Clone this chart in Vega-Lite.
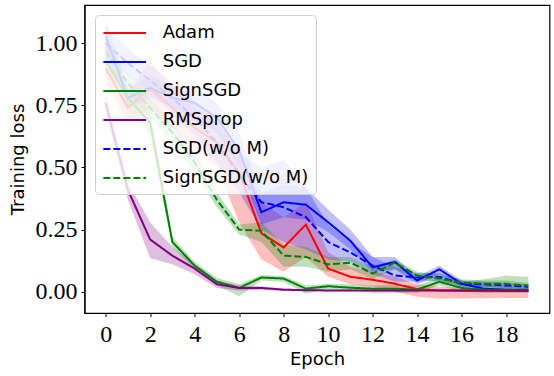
{
  "$schema": "https://vega.github.io/schema/vega-lite/v6.json",
  "width": 465,
  "height": 308,
  "autosize": {"type": "none"},
  "padding": {"left": 84.5, "top": 5, "right": 4.5, "bottom": 63},
  "background": "white",
  "config": {
    "view": {"stroke": "black", "strokeWidth": 1.2},
    "axis": {
      "grid": false,
      "domainColor": "black",
      "domainWidth": 1.2,
      "tickColor": "black",
      "tickWidth": 1,
      "tickSize": 3.5,
      "labelFont": "Liberation Serif",
      "labelFontSize": 24,
      "labelColor": "black",
      "titleFont": "DejaVu Sans",
      "titleFontSize": 18,
      "titleFontWeight": "normal",
      "titleColor": "black"
    },
    "legend": {
      "orient": "none",
      "legendX": 10.5,
      "legendY": 10,
      "padding": 7,
      "fillColor": "rgba(255,255,255,0.8)",
      "strokeColor": "#d0d0d0",
      "cornerRadius": 4,
      "symbolType": "M-2.2,0H2.2",
      "symbolSize": 376,
      "symbolOffset": 11.7,
      "symbolStrokeWidth": 2,
      "symbolOpacity": 1,
      "symbolFillColor": "transparent",
      "labelFont": "DejaVu Sans",
      "labelFontSize": 18,
      "labelColor": "black",
      "labelOffset": 27,
      "rowPadding": 9,
      "labelLimit": 300
    }
  },
  "data": {
    "values": [
      {"series": "Adam", "epoch": 0, "mean": 0.90, "lo": 0.84, "hi": 0.95},
      {"series": "Adam", "epoch": 1, "mean": 0.74, "lo": 0.68, "hi": 0.80},
      {"series": "Adam", "epoch": 2, "mean": 0.82, "lo": 0.74, "hi": 0.93},
      {"series": "Adam", "epoch": 3, "mean": 0.74, "lo": 0.66, "hi": 0.82},
      {"series": "Adam", "epoch": 4, "mean": 0.66, "lo": 0.58, "hi": 0.74},
      {"series": "Adam", "epoch": 5, "mean": 0.60, "lo": 0.50, "hi": 0.68},
      {"series": "Adam", "epoch": 6, "mean": 0.48, "lo": 0.28, "hi": 0.58},
      {"series": "Adam", "epoch": 7, "mean": 0.235, "lo": 0.13, "hi": 0.36},
      {"series": "Adam", "epoch": 8, "mean": 0.178, "lo": 0.08, "hi": 0.30},
      {"series": "Adam", "epoch": 9, "mean": 0.27, "lo": 0.14, "hi": 0.36},
      {"series": "Adam", "epoch": 10, "mean": 0.093, "lo": 0.06, "hi": 0.16},
      {"series": "Adam", "epoch": 11, "mean": 0.06, "lo": 0.03, "hi": 0.10},
      {"series": "Adam", "epoch": 12, "mean": 0.048, "lo": 0.02, "hi": 0.08},
      {"series": "Adam", "epoch": 13, "mean": 0.032, "lo": 0.0, "hi": 0.06},
      {"series": "Adam", "epoch": 14, "mean": 0.01, "lo": -0.02, "hi": 0.03},
      {"series": "Adam", "epoch": 15, "mean": 0.005, "lo": -0.028, "hi": 0.02},
      {"series": "Adam", "epoch": 16, "mean": 0.004, "lo": -0.027, "hi": 0.015},
      {"series": "Adam", "epoch": 17, "mean": 0.004, "lo": -0.026, "hi": 0.015},
      {"series": "Adam", "epoch": 18, "mean": 0.003, "lo": -0.025, "hi": 0.012},
      {"series": "Adam", "epoch": 19, "mean": 0.003, "lo": -0.025, "hi": 0.012},

      {"series": "SGD", "epoch": 0, "mean": 1.03, "lo": 0.98, "hi": 1.09},
      {"series": "SGD", "epoch": 1, "mean": 0.78, "lo": 0.74, "hi": 0.82},
      {"series": "SGD", "epoch": 2, "mean": 0.82, "lo": 0.78, "hi": 0.87},
      {"series": "SGD", "epoch": 3, "mean": 0.78, "lo": 0.74, "hi": 0.83},
      {"series": "SGD", "epoch": 4, "mean": 0.76, "lo": 0.70, "hi": 0.82},
      {"series": "SGD", "epoch": 5, "mean": 0.70, "lo": 0.64, "hi": 0.76},
      {"series": "SGD", "epoch": 6, "mean": 0.57, "lo": 0.50, "hi": 0.64},
      {"series": "SGD", "epoch": 7, "mean": 0.32, "lo": 0.27, "hi": 0.40},
      {"series": "SGD", "epoch": 8, "mean": 0.36, "lo": 0.30, "hi": 0.43},
      {"series": "SGD", "epoch": 9, "mean": 0.35, "lo": 0.29, "hi": 0.42},
      {"series": "SGD", "epoch": 10, "mean": 0.28, "lo": 0.24, "hi": 0.33},
      {"series": "SGD", "epoch": 11, "mean": 0.205, "lo": 0.17, "hi": 0.25},
      {"series": "SGD", "epoch": 12, "mean": 0.098, "lo": 0.08, "hi": 0.14},
      {"series": "SGD", "epoch": 13, "mean": 0.12, "lo": 0.09, "hi": 0.14},
      {"series": "SGD", "epoch": 14, "mean": 0.045, "lo": 0.03, "hi": 0.06},
      {"series": "SGD", "epoch": 15, "mean": 0.09, "lo": 0.07, "hi": 0.105},
      {"series": "SGD", "epoch": 16, "mean": 0.032, "lo": 0.02, "hi": 0.045},
      {"series": "SGD", "epoch": 17, "mean": 0.012, "lo": 0.005, "hi": 0.025},
      {"series": "SGD", "epoch": 18, "mean": 0.008, "lo": 0.003, "hi": 0.02},
      {"series": "SGD", "epoch": 19, "mean": 0.005, "lo": 0.0, "hi": 0.015},

      {"series": "SignSGD", "epoch": 0, "mean": 0.93, "lo": 0.89, "hi": 0.97},
      {"series": "SignSGD", "epoch": 1, "mean": 0.78, "lo": 0.74, "hi": 0.82},
      {"series": "SignSGD", "epoch": 2, "mean": 0.68, "lo": 0.63, "hi": 0.73},
      {"series": "SignSGD", "epoch": 3, "mean": 0.20, "lo": 0.18, "hi": 0.22},
      {"series": "SignSGD", "epoch": 4, "mean": 0.105, "lo": 0.09, "hi": 0.12},
      {"series": "SignSGD", "epoch": 5, "mean": 0.04, "lo": 0.025, "hi": 0.055},
      {"series": "SignSGD", "epoch": 6, "mean": 0.015, "lo": -0.018, "hi": 0.03},
      {"series": "SignSGD", "epoch": 7, "mean": 0.057, "lo": 0.045, "hi": 0.067},
      {"series": "SignSGD", "epoch": 8, "mean": 0.053, "lo": 0.04, "hi": 0.063},
      {"series": "SignSGD", "epoch": 9, "mean": 0.012, "lo": -0.008, "hi": 0.025},
      {"series": "SignSGD", "epoch": 10, "mean": 0.022, "lo": 0.01, "hi": 0.032},
      {"series": "SignSGD", "epoch": 11, "mean": 0.016, "lo": 0.005, "hi": 0.03},
      {"series": "SignSGD", "epoch": 12, "mean": 0.012, "lo": -0.005, "hi": 0.025},
      {"series": "SignSGD", "epoch": 13, "mean": 0.012, "lo": -0.005, "hi": 0.03},
      {"series": "SignSGD", "epoch": 14, "mean": 0.008, "lo": -0.005, "hi": 0.025},
      {"series": "SignSGD", "epoch": 15, "mean": 0.04, "lo": 0.025, "hi": 0.055},
      {"series": "SignSGD", "epoch": 16, "mean": 0.015, "lo": 0.0, "hi": 0.04},
      {"series": "SignSGD", "epoch": 17, "mean": 0.008, "lo": -0.005, "hi": 0.05},
      {"series": "SignSGD", "epoch": 18, "mean": 0.008, "lo": -0.005, "hi": 0.065},
      {"series": "SignSGD", "epoch": 19, "mean": 0.008, "lo": -0.005, "hi": 0.06},

      {"series": "RMSprop", "epoch": 0, "mean": 0.76, "lo": 0.72, "hi": 0.80},
      {"series": "RMSprop", "epoch": 1, "mean": 0.41, "lo": 0.37, "hi": 0.44},
      {"series": "RMSprop", "epoch": 2, "mean": 0.21, "lo": 0.135, "hi": 0.28},
      {"series": "RMSprop", "epoch": 3, "mean": 0.145, "lo": 0.11, "hi": 0.18},
      {"series": "RMSprop", "epoch": 4, "mean": 0.093, "lo": 0.07, "hi": 0.11},
      {"series": "RMSprop", "epoch": 5, "mean": 0.03, "lo": 0.015, "hi": 0.045},
      {"series": "RMSprop", "epoch": 6, "mean": 0.015, "lo": 0.005, "hi": 0.025},
      {"series": "RMSprop", "epoch": 7, "mean": 0.015, "lo": 0.008, "hi": 0.022},
      {"series": "RMSprop", "epoch": 8, "mean": 0.008, "lo": 0.003, "hi": 0.013},
      {"series": "RMSprop", "epoch": 9, "mean": 0.006, "lo": 0.002, "hi": 0.01},
      {"series": "RMSprop", "epoch": 10, "mean": 0.005, "lo": 0.002, "hi": 0.008},
      {"series": "RMSprop", "epoch": 11, "mean": 0.005, "lo": 0.002, "hi": 0.008},
      {"series": "RMSprop", "epoch": 12, "mean": 0.005, "lo": 0.002, "hi": 0.008},
      {"series": "RMSprop", "epoch": 13, "mean": 0.005, "lo": 0.002, "hi": 0.008},
      {"series": "RMSprop", "epoch": 14, "mean": 0.005, "lo": 0.002, "hi": 0.008},
      {"series": "RMSprop", "epoch": 15, "mean": 0.005, "lo": 0.002, "hi": 0.008},
      {"series": "RMSprop", "epoch": 16, "mean": 0.005, "lo": 0.002, "hi": 0.008},
      {"series": "RMSprop", "epoch": 17, "mean": 0.005, "lo": 0.002, "hi": 0.008},
      {"series": "RMSprop", "epoch": 18, "mean": 0.005, "lo": 0.002, "hi": 0.008},
      {"series": "RMSprop", "epoch": 19, "mean": 0.005, "lo": 0.002, "hi": 0.008},

      {"series": "SGD(w/o M)", "epoch": 0, "mean": 1.00, "lo": 0.95, "hi": 1.07},
      {"series": "SGD(w/o M)", "epoch": 1, "mean": 0.92, "lo": 0.87, "hi": 0.98},
      {"series": "SGD(w/o M)", "epoch": 2, "mean": 0.85, "lo": 0.80, "hi": 0.91},
      {"series": "SGD(w/o M)", "epoch": 3, "mean": 0.78, "lo": 0.72, "hi": 0.84},
      {"series": "SGD(w/o M)", "epoch": 4, "mean": 0.70, "lo": 0.63, "hi": 0.77},
      {"series": "SGD(w/o M)", "epoch": 5, "mean": 0.60, "lo": 0.52, "hi": 0.68},
      {"series": "SGD(w/o M)", "epoch": 6, "mean": 0.47, "lo": 0.40, "hi": 0.56},
      {"series": "SGD(w/o M)", "epoch": 7, "mean": 0.36, "lo": 0.25, "hi": 0.50},
      {"series": "SGD(w/o M)", "epoch": 8, "mean": 0.34, "lo": 0.20, "hi": 0.53},
      {"series": "SGD(w/o M)", "epoch": 9, "mean": 0.30, "lo": 0.17, "hi": 0.42},
      {"series": "SGD(w/o M)", "epoch": 10, "mean": 0.20, "lo": 0.13, "hi": 0.27},
      {"series": "SGD(w/o M)", "epoch": 11, "mean": 0.158, "lo": 0.12, "hi": 0.20},
      {"series": "SGD(w/o M)", "epoch": 12, "mean": 0.105, "lo": 0.07, "hi": 0.14},
      {"series": "SGD(w/o M)", "epoch": 13, "mean": 0.065, "lo": 0.04, "hi": 0.10},
      {"series": "SGD(w/o M)", "epoch": 14, "mean": 0.057, "lo": 0.04, "hi": 0.075},
      {"series": "SGD(w/o M)", "epoch": 15, "mean": 0.06, "lo": 0.045, "hi": 0.075},
      {"series": "SGD(w/o M)", "epoch": 16, "mean": 0.032, "lo": 0.02, "hi": 0.045},
      {"series": "SGD(w/o M)", "epoch": 17, "mean": 0.03, "lo": 0.02, "hi": 0.04},
      {"series": "SGD(w/o M)", "epoch": 18, "mean": 0.025, "lo": 0.015, "hi": 0.035},
      {"series": "SGD(w/o M)", "epoch": 19, "mean": 0.02, "lo": 0.01, "hi": 0.03},

      {"series": "SignSGD(w/o M)", "epoch": 0, "mean": 0.97, "lo": 0.93, "hi": 1.0},
      {"series": "SignSGD(w/o M)", "epoch": 1, "mean": 0.84, "lo": 0.80, "hi": 0.88},
      {"series": "SignSGD(w/o M)", "epoch": 2, "mean": 0.74, "lo": 0.70, "hi": 0.78},
      {"series": "SignSGD(w/o M)", "epoch": 3, "mean": 0.64, "lo": 0.60, "hi": 0.68},
      {"series": "SignSGD(w/o M)", "epoch": 4, "mean": 0.52, "lo": 0.48, "hi": 0.56},
      {"series": "SignSGD(w/o M)", "epoch": 5, "mean": 0.37, "lo": 0.34, "hi": 0.40},
      {"series": "SignSGD(w/o M)", "epoch": 6, "mean": 0.25, "lo": 0.23, "hi": 0.27},
      {"series": "SignSGD(w/o M)", "epoch": 7, "mean": 0.245, "lo": 0.20, "hi": 0.28},
      {"series": "SignSGD(w/o M)", "epoch": 8, "mean": 0.145, "lo": 0.10, "hi": 0.19},
      {"series": "SignSGD(w/o M)", "epoch": 9, "mean": 0.14, "lo": 0.10, "hi": 0.18},
      {"series": "SignSGD(w/o M)", "epoch": 10, "mean": 0.11, "lo": 0.08, "hi": 0.14},
      {"series": "SignSGD(w/o M)", "epoch": 11, "mean": 0.117, "lo": 0.09, "hi": 0.14},
      {"series": "SignSGD(w/o M)", "epoch": 12, "mean": 0.073, "lo": 0.05, "hi": 0.10},
      {"series": "SignSGD(w/o M)", "epoch": 13, "mean": 0.117, "lo": 0.09, "hi": 0.13},
      {"series": "SignSGD(w/o M)", "epoch": 14, "mean": 0.065, "lo": 0.05, "hi": 0.08},
      {"series": "SignSGD(w/o M)", "epoch": 15, "mean": 0.053, "lo": 0.04, "hi": 0.07},
      {"series": "SignSGD(w/o M)", "epoch": 16, "mean": 0.036, "lo": 0.025, "hi": 0.05},
      {"series": "SignSGD(w/o M)", "epoch": 17, "mean": 0.032, "lo": 0.02, "hi": 0.045},
      {"series": "SignSGD(w/o M)", "epoch": 18, "mean": 0.032, "lo": 0.02, "hi": 0.045},
      {"series": "SignSGD(w/o M)", "epoch": 19, "mean": 0.024, "lo": 0.015, "hi": 0.035}
    ]
  },
  "encoding": {
    "x": {
      "field": "epoch",
      "type": "quantitative",
      "scale": {"domain": [-0.95, 19.95], "nice": false, "zero": false},
      "axis": {"title": "Epoch", "values": [0, 2, 4, 6, 8, 10, 12, 14, 16, 18], "labelPadding": 6, "titlePadding": 4, "labelFlush": false}
    }
  },
  "layer": [
    {
      "mark": {"type": "area", "fillOpacity": 0.25},
      "encoding": {
        "y": {"field": "lo", "type": "quantitative"},
        "y2": {"field": "hi"},
        "color": {
          "field": "series",
          "type": "nominal",
          "legend": {"title": null},
          "scale": {
            "domain": ["Adam", "SGD", "SignSGD", "RMSprop", "SGD(w/o M)", "SignSGD(w/o M)"],
            "range": ["#ff0000", "#0000ff", "#008000", "#800080", "#0000ff", "#008000"]
          }
        }
      }
    },
    {
      "mark": {"type": "line", "strokeWidth": 2},
      "encoding": {
        "y": {
          "field": "mean",
          "type": "quantitative",
          "scale": {"domain": [-0.0858, 1.154], "nice": false, "zero": false},
          "axis": {"title": "Training loss", "values": [0, 0.25, 0.5, 0.75, 1.0], "format": ".2f", "labelPadding": 4, "titlePadding": 8, "labelFlush": false}
        },
        "color": {
          "field": "series",
          "type": "nominal",
          "legend": {"title": null},
          "scale": {
            "domain": ["Adam", "SGD", "SignSGD", "RMSprop", "SGD(w/o M)", "SignSGD(w/o M)"],
            "range": ["#ff0000", "#0000ff", "#008000", "#800080", "#0000ff", "#008000"]
          }
        },
        "strokeDash": {
          "field": "series",
          "type": "nominal",
          "legend": {"title": null},
          "scale": {
            "domain": ["Adam", "SGD", "SignSGD", "RMSprop", "SGD(w/o M)", "SignSGD(w/o M)"],
            "range": [[1, 0], [1, 0], [1, 0], [1, 0], [7, 3], [7, 3]]
          }
        }
      }
    }
  ]
}
